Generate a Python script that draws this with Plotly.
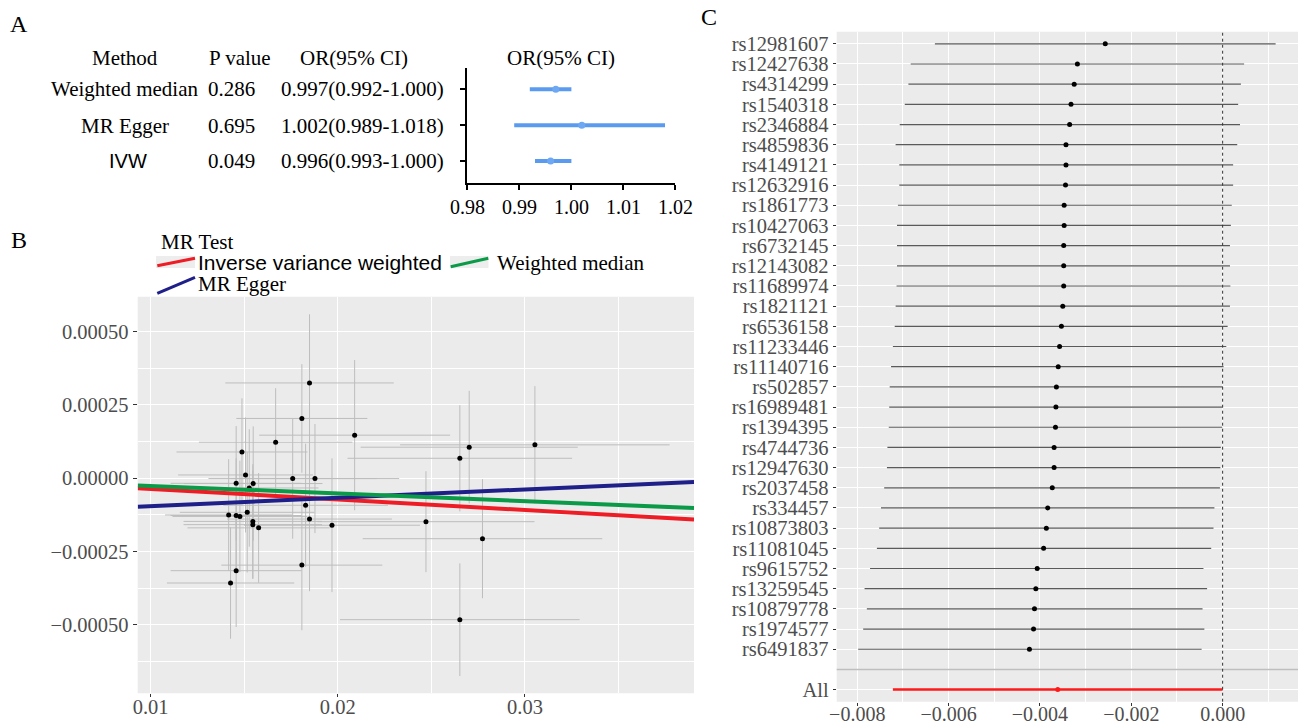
import plotly.graph_objects as go

W, H = 1298, 726


def px(x):
    return x / W


def py(y):
    return 1 - y / H


SERIF = "Liberation Serif, Times New Roman, serif"
SANS = "Liberation Sans, Arial, sans-serif"
AXIS_GREY = "#4D4D4D"
PANEL_BG = "#EBEBEB"

# ---------------- Panel A: summary MR estimates ----------------
methods = ["Weighted median", "MR Egger", "IVW"]
method_fonts = [SERIF, SERIF, SANS]
p_values = [0.286, 0.695, 0.049]
or_est = [0.997, 1.002, 0.996]
or_low = [0.992, 0.989, 0.993]
or_high = [1.000, 1.018, 1.000]
method_rows = [3, 2, 1]
or_ticks = [0.98, 0.99, 1.00, 1.01, 1.02]

# ---------------- Panel B: SNP effects on exposure / outcome ----------------
snp_bx = [0.01849, 0.01808, 0.02090, 0.01668, 0.01488, 0.01507, 0.01457, 0.01548,
          0.01527, 0.01759, 0.01878, 0.01828, 0.01417, 0.01457, 0.01477, 0.01516,
          0.01546, 0.01546, 0.01577, 0.01849, 0.01969, 0.02471, 0.01808, 0.01457,
          0.01427, 0.02702, 0.02652, 0.03053, 0.02773, 0.02652]
snp_by = [0.000325, 0.000204, 0.000147, 0.000123, 0.0000897, 0.0000113, -0.0000171,
          -0.000018, -0.000033, -0.000001, -0.000001, -0.000092, -0.000125, -0.000127,
          -0.000130, -0.000116, -0.000147, -0.000158, -0.000169, -0.000139, -0.000160,
          -0.000148, -0.000296, -0.000315, -0.000357, 0.000106, 0.0000682, 0.000114,
          -0.000206, -0.000482]
snp_bx_se = [0.0045, 0.0035, 0.0051, 0.0041, 0.0035, 0.0036, 0.0035, 0.0037,
             0.0037, 0.0045, 0.0045, 0.0044, 0.0034, 0.0035, 0.0036, 0.0036,
             0.0037, 0.0037, 0.0038, 0.0044, 0.0047, 0.0058, 0.0043, 0.0035,
             0.0034, 0.0058, 0.0060, 0.0072, 0.0064, 0.0064]
snp_by_se = [0.000234, 0.000185, 0.000256, 0.000184, 0.000183, 0.000196, 0.000195,
             0.000195, 0.000200, 0.000205, 0.000186, 0.000210, 0.000190, 0.000195,
             0.000190, 0.000205, 0.000195, 0.000185, 0.000187, 0.000246, 0.000228,
             0.000172, 0.000222, 0.000192, 0.000190, 0.000192, 0.000181, 0.000200,
             0.000203, 0.000192]
fit_names = ["Inverse variance weighted", "MR Egger", "Weighted median"]
fit_slope = [-0.00361, 0.00283, -0.00260]
fit_intercept = [0.0, -0.000123, 0.0]
fit_colors = ["#EE1C25", "#1F1F8A", "#0A9A48"]
b_xrange = [0.00931, 0.03903]
b_yrange = [-0.000733, 0.000619]

# ---------------- Panel C: per-SNP forest ----------------
snps = ["rs12981607", "rs12427638", "rs4314299", "rs1540318", "rs2346884",
        "rs4859836", "rs4149121", "rs12632916", "rs1861773", "rs10427063",
        "rs6732145", "rs12143082", "rs11689974", "rs1821121", "rs6536158",
        "rs11233446", "rs11140716", "rs502857", "rs16989481", "rs1394395",
        "rs4744736", "rs12947630", "rs2037458", "rs334457", "rs10873803",
        "rs11081045", "rs9615752", "rs13259545", "rs10879778", "rs1974577",
        "rs6491837"]
snp_b = [-0.00257, -0.00318, -0.00325, -0.00332, -0.00335, -0.00343, -0.00343,
         -0.00344, -0.00347, -0.00347, -0.00348, -0.00348, -0.00348, -0.00350,
         -0.00353, -0.00357, -0.00360, -0.00364, -0.00365, -0.00366, -0.00369,
         -0.00369, -0.00373, -0.00383, -0.00386, -0.00392, -0.00406, -0.00409,
         -0.00412, -0.00414, -0.00423]
snp_lo = [-0.00630, -0.00683, -0.00688, -0.00696, -0.00707, -0.00716, -0.00708,
          -0.00708, -0.00711, -0.00713, -0.00713, -0.00713, -0.00714, -0.00716,
          -0.00718, -0.00722, -0.00726, -0.00729, -0.00730, -0.00731, -0.00734,
          -0.00735, -0.00741, -0.00748, -0.00752, -0.00757, -0.00772, -0.00784,
          -0.00779, -0.00787, -0.00798]
snp_hi = [0.00116, 0.00047, 0.00040, 0.00034, 0.00038, 0.00032, 0.00023,
          0.00023, 0.00020, 0.00018, 0.00016, 0.00016, 0.00017, 0.00016,
          0.00011, 0.00008, 0.00002, 0.00000, -0.00001, -0.00001, -0.00004,
          -0.00005, -0.00006, -0.00018, -0.00020, -0.00025, -0.00042, -0.00034,
          -0.00044, -0.00040, -0.00046]
all_label = "All"
all_b = -0.00361
all_lo = -0.00722
all_hi = 0.00000
c_xrange = [-0.00845, 0.00165]

snp_rows = [len(snps) + 1 - i for i in range(len(snps))]

fig = go.Figure()

# Panel A forest
A_BLUE = "#5A9BF0"
fig.add_trace(go.Scatter(
    x=or_est, y=method_rows, mode="markers",
    marker=dict(color="#6EA8F2", size=7),
    error_x=dict(type="data", symmetric=False,
                 array=[h - e for e, h in zip(or_est, or_high)],
                 arrayminus=[e - l for e, l in zip(or_est, or_low)],
                 color=A_BLUE, thickness=4, width=0),
    xaxis="x", yaxis="y", showlegend=False, hoverinfo="skip"))

# Panel B scatter with error bars
fig.add_trace(go.Scatter(
    x=snp_bx, y=snp_by, mode="markers",
    marker=dict(color="black", size=5),
    error_x=dict(type="data", array=snp_bx_se, color="#BDBDBD", thickness=1, width=0),
    error_y=dict(type="data", array=snp_by_se, color="#BDBDBD", thickness=1, width=0),
    xaxis="x2", yaxis="y2", showlegend=False, hoverinfo="skip"))

for name, slope, icpt, col in zip(fit_names, fit_slope, fit_intercept, fit_colors):
    fig.add_trace(go.Scatter(
        x=b_xrange, y=[slope * x + icpt for x in b_xrange], mode="lines",
        line=dict(color=col, width=4), name=name,
        xaxis="x2", yaxis="y2", showlegend=False, hoverinfo="skip"))

# Panel C forest
fig.add_trace(go.Scatter(
    x=snp_b, y=snp_rows, mode="markers",
    marker=dict(color="black", size=5),
    error_x=dict(type="data", symmetric=False,
                 array=[h - b for b, h in zip(snp_b, snp_hi)],
                 arrayminus=[b - l for b, l in zip(snp_b, snp_lo)],
                 color="#5A5A5A", thickness=1.2, width=0),
    xaxis="x3", yaxis="y3", showlegend=False, hoverinfo="skip"))
fig.add_trace(go.Scatter(
    x=[all_b], y=[0], mode="markers",
    marker=dict(color="#FF1A1A", size=5),
    error_x=dict(type="data", symmetric=False,
                 array=[all_hi - all_b], arrayminus=[all_b - all_lo],
                 color="#FF1A1A", thickness=2.5, width=0),
    xaxis="x3", yaxis="y3", showlegend=False, hoverinfo="skip"))

tick_serif = dict(family=SERIF, size=20.5, color=AXIS_GREY)

layout_axes = dict(
    xaxis=dict(domain=[px(467.4), px(675.4)], anchor="y", range=[0.98, 1.02],
               tickvals=or_ticks, tickformat=".2f", ticks="outside", ticklen=5,
               tickwidth=2, tickcolor="black", showline=True, linecolor="black",
               linewidth=2, showgrid=False, zeroline=False, automargin=False,
               tickfont=dict(family=SERIF, size=20, color="black")),
    yaxis=dict(domain=[py(183), py(68)], anchor="x", range=[0.39, 3.59],
               tickvals=method_rows, ticktext=["", "", ""], ticks="outside",
               ticklen=5, tickwidth=2, tickcolor="black", showline=True,
               linecolor="black", linewidth=2, showgrid=False, zeroline=False,
               automargin=False),
    xaxis2=dict(domain=[px(137.7), px(694)], anchor="y2", range=b_xrange,
                tick0=0, dtick=0.01, tickformat=".2f", ticks="outside", ticklen=3,
                tickcolor="#333333", showgrid=True, gridcolor="white", gridwidth=1.4,
                minor=dict(tick0=0, dtick=0.005, showgrid=True, gridcolor="white",
                           gridwidth=0.7),
                zeroline=False, showline=False, tickfont=tick_serif,
                ticklabelstandoff=-8, automargin=False),
    yaxis2=dict(domain=[py(693.3), py(296.7)], anchor="x2", range=b_yrange,
                tick0=0, dtick=0.00025, tickformat=".5f", ticks="outside", ticklen=4,
                tickcolor="#333333", showgrid=True, gridcolor="white", gridwidth=1.4,
                minor=dict(tick0=0, dtick=0.000125, showgrid=True, gridcolor="white",
                           gridwidth=0.7),
                zeroline=False, showline=False, tickfont=tick_serif,
                automargin=False),
    xaxis3=dict(domain=[px(836.7), 1.0], anchor="y3", range=c_xrange,
                tick0=0, dtick=0.002, tickformat=".3f", ticks="outside", ticklen=3,
                tickcolor="#333333", showgrid=True, gridcolor="white", gridwidth=1.4,
                minor=dict(tick0=0, dtick=0.001, showgrid=True, gridcolor="white",
                           gridwidth=0.7),
                zeroline=False, showline=False,
                tickfont=dict(family=SERIF, size=20, color=AXIS_GREY),
                ticklabelstandoff=-9, automargin=False),
    yaxis3=dict(domain=[py(701.7), py(31.7)], anchor="x3", range=[-0.6, 32.6],
                tickvals=[0] + snp_rows, ticktext=[all_label] + snps,
                ticks="outside", ticklen=3, tickcolor="#333333",
                showgrid=True, gridcolor="white", gridwidth=1.4, zeroline=False,
                showline=False, automargin=False,
                tickfont=dict(family=SERIF, size=20.5, color=AXIS_GREY)),
)

shapes = [
    dict(type="rect", xref="x2 domain", yref="y2 domain", x0=0, x1=1, y0=0, y1=1,
         fillcolor=PANEL_BG, line=dict(width=0), layer="below"),
    dict(type="rect", xref="x3 domain", yref="y3 domain", x0=0, x1=1, y0=0, y1=1,
         fillcolor=PANEL_BG, line=dict(width=0), layer="below"),
    # separator between SNP rows and the combined estimate
    dict(type="line", xref="x3 domain", yref="y3", x0=0, x1=1, y0=1, y1=1,
         line=dict(color="#BEBEBE", width=1.5), layer="above"),
    # null-effect reference line
    dict(type="line", xref="x3", yref="y3 domain", x0=0, x1=0, y0=0, y1=1,
         line=dict(color="#333333", width=1, dash="dot"), layer="above"),
    # legend key backgrounds
    dict(type="rect", xref="paper", yref="paper", x0=px(156), x1=px(195),
         y0=py(268), y1=py(256), fillcolor="#EDEDED", line=dict(width=0),
         layer="above"),
    dict(type="rect", xref="paper", yref="paper", x0=px(450), x1=px(488.5),
         y0=py(268), y1=py(256), fillcolor="#EDEDED", line=dict(width=0),
         layer="above"),
    # legend key lines
    dict(type="line", xref="paper", yref="paper", x0=px(157.3), y0=py(265.7),
         x1=px(195), y1=py(258.3), line=dict(color=fit_colors[0], width=3),
         layer="above"),
    dict(type="line", xref="paper", yref="paper", x0=px(450.7), y0=py(266.7),
         x1=px(488.3), y1=py(258.3), line=dict(color=fit_colors[2], width=3),
         layer="above"),
    dict(type="line", xref="paper", yref="paper", x0=px(157.3), y0=py(293.3),
         x1=px(195), y1=py(277.3), line=dict(color=fit_colors[1], width=3),
         layer="above"),
]

annotations = []


def add_text(text, x, y, size=21, family=SERIF, color="black", xanchor="center"):
    annotations.append(dict(text=text, x=px(x), y=py(y), xref="paper", yref="paper",
                            showarrow=False, xanchor=xanchor, yanchor="middle",
                            font=dict(family=family, size=size, color=color),
                            borderpad=0))


# panel letters
add_text("A", 19, 24, size=24)
add_text("B", 19, 240, size=24)
add_text("C", 709, 17, size=24)

# panel A table
row_px = {3: 89.3, 2: 126.0, 1: 161.0}
add_text("Method", 125, 58)
add_text("P value", 240, 58)
add_text("OR(95% CI)", 354, 58)
add_text("OR(95% CI)", 561, 58)
for m, fam, p, e, lo, hi, r in zip(methods, method_fonts, p_values, or_est,
                                    or_low, or_high, method_rows):
    add_text(m, 125 if fam == SERIF else 128, row_px[r], family=fam,
             size=21 if fam == SERIF else 20)
    add_text(f"{p:.3f}", 232, row_px[r])
    add_text(f"{e:.3f}({lo:.3f}-{hi:.3f})", 363, row_px[r])

# panel B legend
add_text("MR Test", 160, 242, size=21, xanchor="left")
add_text(fit_names[0], 197, 263, size=21, family=SANS, xanchor="left")
add_text(fit_names[2], 496, 263, size=21, xanchor="left")
add_text(fit_names[1], 197, 284, size=21, xanchor="left")

fig.update_layout(
    width=W, height=H, margin=dict(l=0, r=0, t=0, b=0, autoexpand=False),
    paper_bgcolor="white", plot_bgcolor="white",
    showlegend=False, shapes=shapes, annotations=annotations,
    **layout_axes)

fig.write_html("out.html")
